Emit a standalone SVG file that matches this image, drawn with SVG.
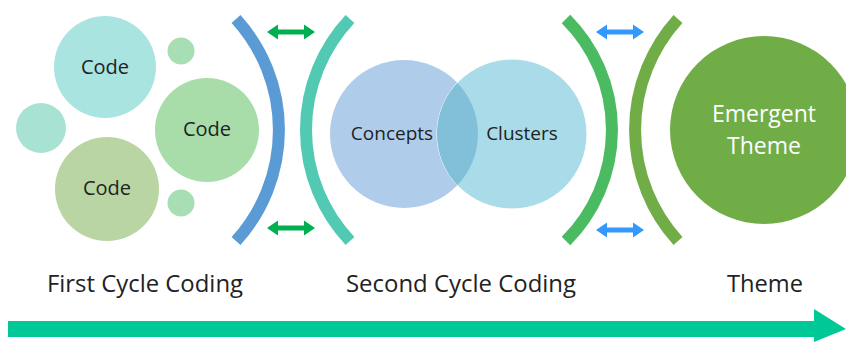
<svg xmlns="http://www.w3.org/2000/svg" width="846" height="342" viewBox="0 0 846 342">
<style>
.lbl{font-family:"Open Sans","Liberation Sans",sans-serif;fill:#222;text-anchor:middle;dominant-baseline:central}
.arc{fill:none;stroke-width:12}
</style>
<defs>
<path id="dbl" d="M-24,0 L-13,-7.5 L-13,-2.5 L13,-2.5 L13,-7.5 L24,0 L13,7.5 L13,2.5 L-13,2.5 L-13,7.5 Z"/>
<clipPath id="clClusters"><circle cx="512" cy="134" r="75"/></clipPath>
</defs>
<rect width="846" height="342" fill="#fff"/>
<g id="code-small-left"><circle cx="41" cy="128" r="25" fill="#a8e2d2"/></g>
<g id="code-small-top"><circle cx="181" cy="51" r="13.5" fill="#a8deb4"/></g>
<g id="code-small-bottom"><circle cx="181" cy="203" r="13.5" fill="#a8deb4"/></g>
<g id="code1"><circle cx="105" cy="67" r="51" fill="#a9e4e1"/><text class="lbl" x="105" y="66" font-size="20">Code</text></g>
<g id="code2"><circle cx="207" cy="130" r="52" fill="#a8ddaa"/><text class="lbl" x="207" y="128" font-size="20">Code</text></g>
<g id="code3"><circle cx="107" cy="189" r="52" fill="#b9d5a3"/><text class="lbl" x="107" y="187" font-size="20">Code</text></g>
<g id="bracket-blue"><path class="arc" stroke="#5b9bd5" d="M236,19 A165,165 0 0 1 236,241"/></g>
<g id="bracket-teal"><path class="arc" stroke="#52c9b2" d="M350,19 A162,162 0 0 0 350,241"/></g>
<g id="concepts"><circle cx="404" cy="134" r="74" fill="#afcdea"/></g>
<g id="clusters"><circle cx="512" cy="134" r="75" fill="#aadbe8" stroke="#fff" stroke-width="1"/>
<circle cx="404" cy="134" r="74" fill="#82c0da" clip-path="url(#clClusters)"/></g>
<text class="lbl" x="392" y="133" font-size="19">Concepts</text>
<text class="lbl" x="522" y="133" font-size="19">Clusters</text>
<g id="bracket-green"><path class="arc" stroke="#4bbb61" d="M566,19 A157,157 0 0 1 566,241"/></g>
<g id="bracket-darkgreen"><path class="arc" stroke="#70ad47" d="M678,19 A165,165 0 0 0 678,241"/></g>
<g id="theme"><circle cx="764" cy="130" r="94" fill="#70ad47"/>
<text class="lbl" x="764" y="113" font-size="23" style="fill:#fff">Emergent</text>
<text class="lbl" x="764" y="145" font-size="23" style="fill:#fff">Theme</text></g>
<g id="connectors">
<use href="#dbl" x="291" y="32" fill="#00b050"/>
<use href="#dbl" x="291" y="228" fill="#00b050"/>
<use href="#dbl" x="620" y="32" fill="#3399ff"/>
<use href="#dbl" x="620" y="230" fill="#3399ff"/>
<path d="M8,321 L814,321 L814,309 L846,329 L814,342 L814,337 L8,337 Z" fill="#00c896"/>
</g>
<g id="labels">
<text class="lbl" x="145" y="283" font-size="23" textLength="196" lengthAdjust="spacingAndGlyphs">First Cycle Coding</text>
<text class="lbl" x="461" y="283" font-size="23" textLength="230" lengthAdjust="spacingAndGlyphs">Second Cycle Coding</text>
<text class="lbl" x="765" y="283" font-size="23" textLength="76" lengthAdjust="spacingAndGlyphs">Theme</text>
</g>
</svg>
